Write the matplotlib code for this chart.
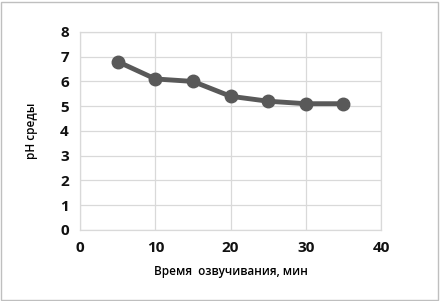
import matplotlib
matplotlib.use('Agg')
import matplotlib.pyplot as plt
from matplotlib.patches import Rectangle

# sonication time (min) and pH of the medium
time_min = [5, 10, 15, 20, 25, 30, 35]
ph_values = [6.8, 6.1, 6.0, 5.4, 5.2, 5.1, 5.1]
x_ticks = [0, 10, 20, 30, 40]
y_ticks = [0, 1, 2, 3, 4, 5, 6, 7, 8]

plt.rcParams['font.family'] = ['Open Sans', 'DejaVu Sans']

figure = plt.figure(figsize=(4.4, 3.01), dpi=100)
axis = figure.add_axes([0.182, 0.236, 0.684, 0.658])

axis.plot(time_min, ph_values, color='#595959', lw=3.5, marker='o',
          markersize=9, markerfacecolor='#595959', markeredgecolor='#595959',
          zorder=3)

axis.set_xlim(0, 40)
axis.set_ylim(0, 8)
axis.set_xticks(x_ticks)
axis.set_yticks(y_ticks)
axis.grid(True, color='#d9d9d9', lw=0.9)
axis.set_axisbelow(True)

# light frame, same as grid
for side in ['top', 'bottom', 'left', 'right']:
    axis.spines[side].set_color('#d9d9d9')
    axis.spines[side].set_linewidth(0.9)

axis.tick_params(length=0, labelsize=11, pad=8, colors='#111111')
for label in axis.get_xticklabels() + axis.get_yticklabels():
    label.set_fontweight('bold')

axis.set_xlabel('Время  озвучивания, мин', fontsize=8.5, labelpad=7,
                fontweight='semibold')
axis.set_ylabel('рН среды', fontsize=8.5, labelpad=16, fontweight='semibold')

figure.patches.append(Rectangle((0.002, 0.004), 0.994, 0.99, transform=figure.transFigure,
                                fill=False, edgecolor='#bfbfbf', lw=1))

figure.savefig('out.png', dpi=100)
